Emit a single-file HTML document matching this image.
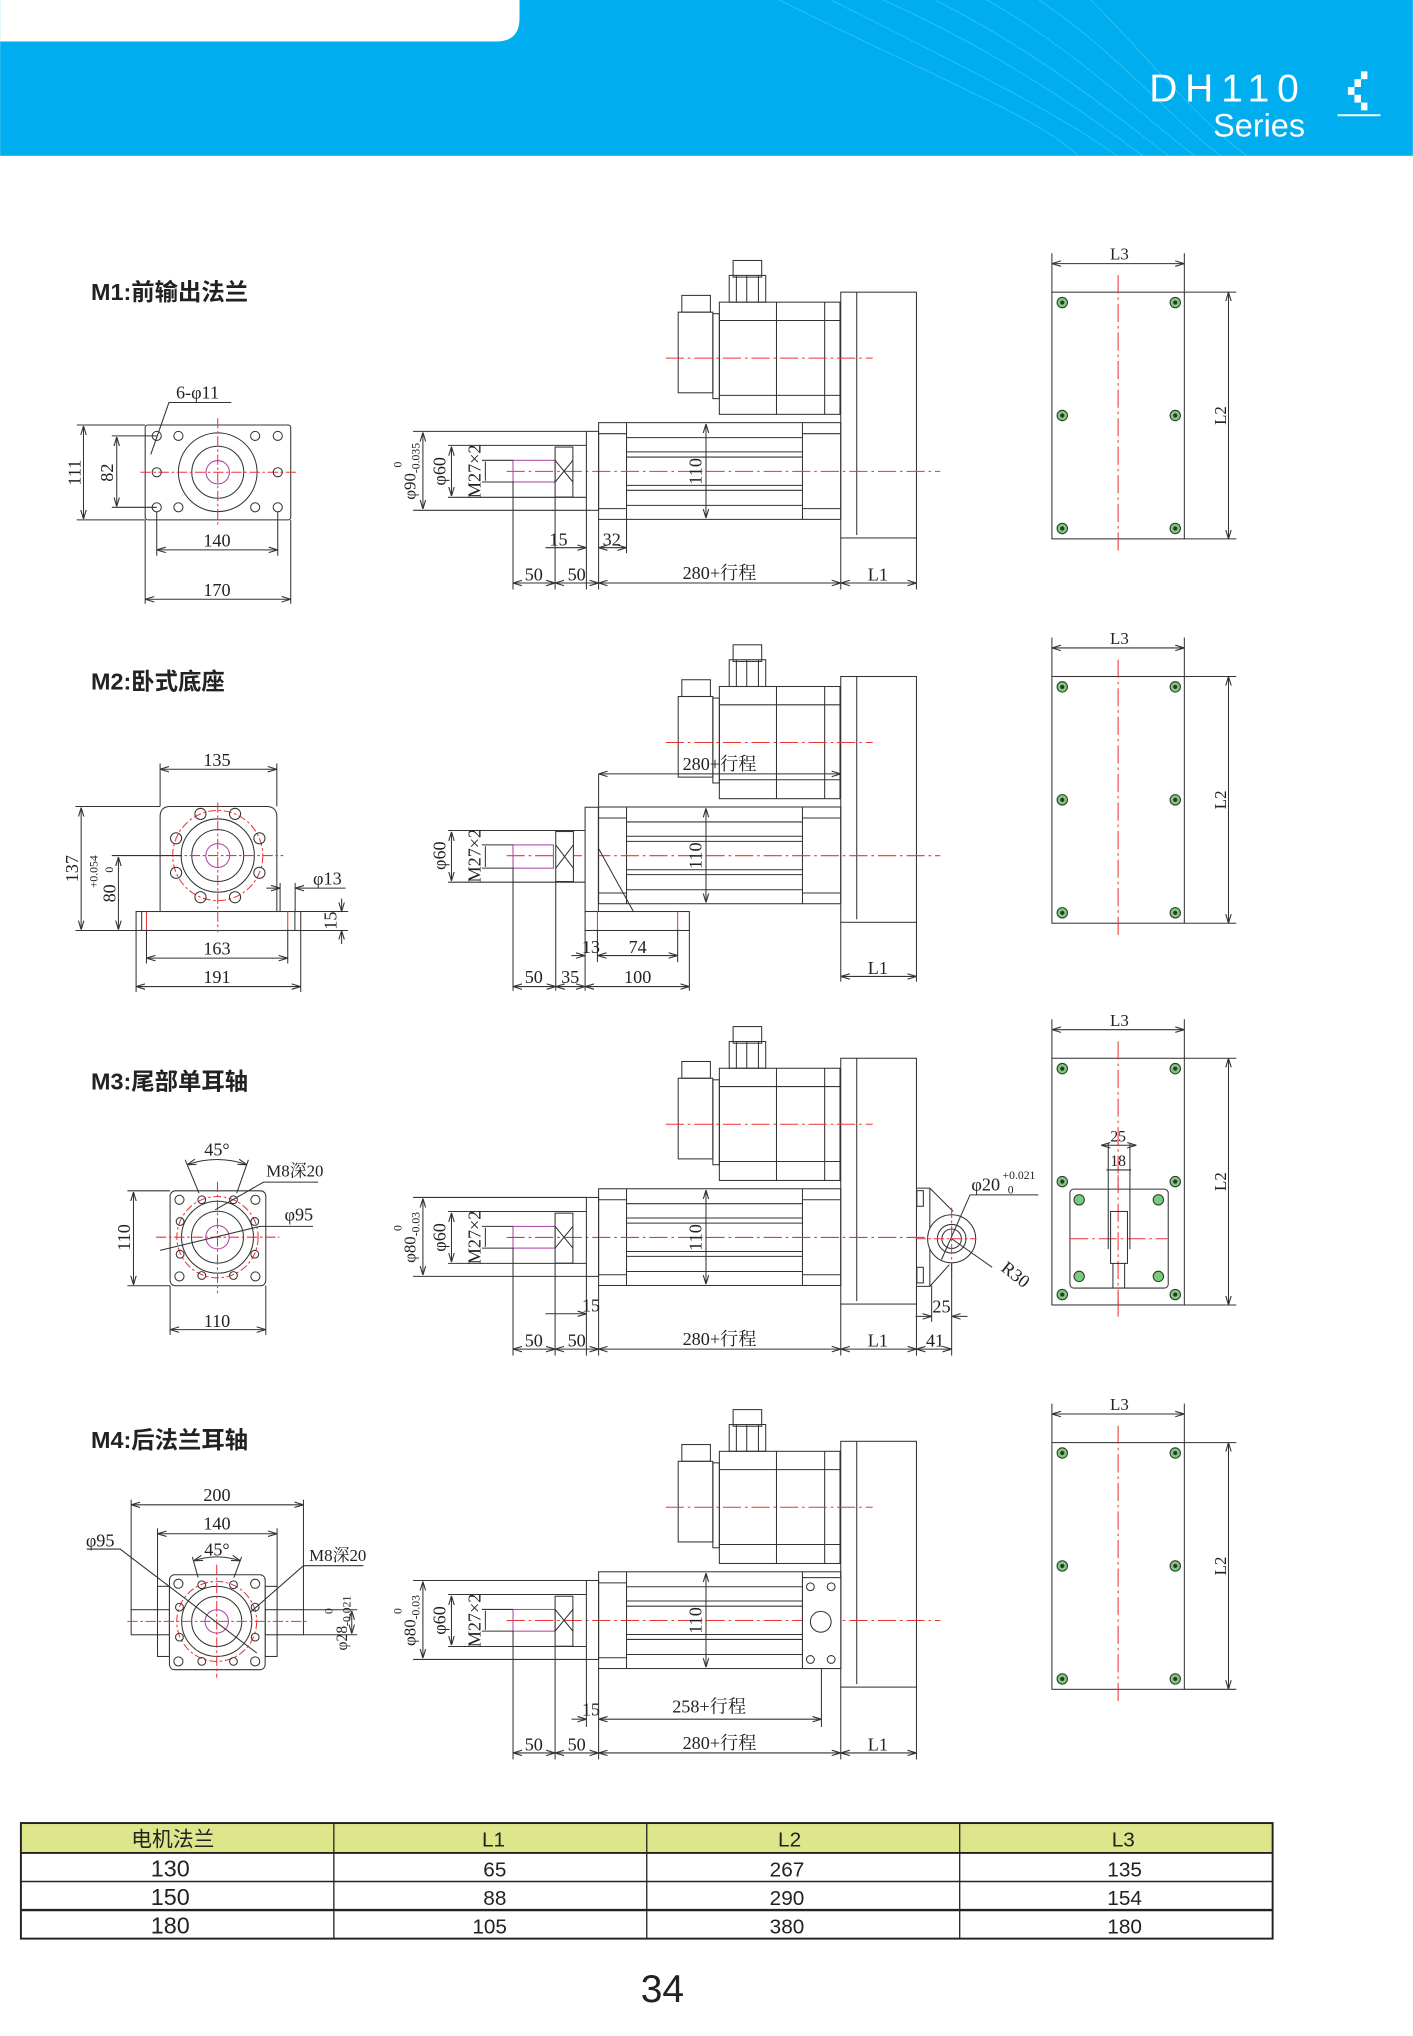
<!DOCTYPE html>
<html><head><meta charset="utf-8"><style>
html,body{margin:0;padding:0;background:#fff;}
svg{display:block;}
text{font-family:"Liberation Serif","Noto Serif CJK SC",serif;fill:#222;}
.s{font-family:"Liberation Sans","Noto Sans CJK SC",sans-serif;}
</style></head><body>
<svg width="1413" height="2036" viewBox="0 0 1088 1568" xmlns="http://www.w3.org/2000/svg">
<defs>
<marker id="a" viewBox="0 0 10 10" refX="10" refY="5" markerWidth="7" markerHeight="7" orient="auto-start-reverse" markerUnits="userSpaceOnUse"><path d="M0,2 L10,5 L0,8" fill="none" stroke="#333" stroke-width="1.2"/></marker>
<g id="mot" fill="none" stroke="#333" stroke-width="0.8">
<rect x="647.4" y="225" width="58.3" height="189.3" fill="#fff"/>
<line x1="659.7" y1="225" x2="659.7" y2="412"/>
<rect x="553.9" y="232.7" width="92.9" height="86.4"/>
<line x1="597.9" y1="232.7" x2="597.9" y2="319.1"/>
<line x1="635" y1="232.7" x2="635" y2="319.1"/>
<line x1="553.9" y1="246.8" x2="646.8" y2="246.8"/>
<line x1="553.9" y1="304.5" x2="646.8" y2="304.5"/>
<rect x="548.9" y="241.6" width="5" height="65.4"/>
<rect x="522.2" y="240.4" width="26.7" height="62.1"/>
<rect x="525" y="227.5" width="22" height="12.9"/>
<rect x="561.5" y="212.1" width="28.1" height="20.6"/>
<line x1="567" y1="212.1" x2="567" y2="232.7"/><line x1="575" y1="212.1" x2="575" y2="232.7"/><line x1="584" y1="212.1" x2="584" y2="232.7"/>
<rect x="564.5" y="200.6" width="22" height="12.8"/>
<rect x="460.9" y="325.5" width="186.5" height="74.5"/>
<line x1="482.4" y1="325.5" x2="482.4" y2="400"/>
<line x1="617.9" y1="325.5" x2="617.9" y2="400"/>
<line x1="460.9" y1="334" x2="482.4" y2="334"/><line x1="617.9" y1="334" x2="647.4" y2="334"/>
<line x1="460.9" y1="391.7" x2="482.4" y2="391.7"/><line x1="617.9" y1="391.7" x2="647.4" y2="391.7"/>
<line x1="482.4" y1="337" x2="617.9" y2="337"/><line x1="482.4" y1="348" x2="617.9" y2="348"/><line x1="482.4" y1="352" x2="617.9" y2="352"/>
<line x1="482.4" y1="373.8" x2="617.9" y2="373.8"/><line x1="482.4" y1="377.6" x2="617.9" y2="377.6"/><line x1="482.4" y1="389.2" x2="617.9" y2="389.2"/>
<line x1="543.6" y1="326.5" x2="543.6" y2="399" marker-start="url(#a)" marker-end="url(#a)"/>
<line x1="390" y1="363" x2="724" y2="363" stroke="#e33" stroke-dasharray="14,3,2,3"/>
<line x1="512.6" y1="275.8" x2="672" y2="275.8" stroke="#e33" stroke-dasharray="14,3,2,3"/>
</g>
<g id="rod" fill="none" stroke="#333" stroke-width="0.8">
<rect x="451.5" y="332.2" width="9.4" height="60.8"/>
<rect x="395" y="354.5" width="32.4" height="16.7" stroke="#a4a"/>
<rect x="427.4" y="344.3" width="13.7" height="38.5"/>
<path d="M427.4,354.5 L441.1,371.2 M441.1,354.5 L427.4,371.2"/>
<line x1="345" y1="343" x2="451.5" y2="343"/><line x1="345" y1="383" x2="451.5" y2="383"/>
<line x1="371" y1="354.5" x2="395" y2="354.5"/><line x1="371" y1="371.2" x2="395" y2="371.2"/>
<line x1="318" y1="332.2" x2="451.5" y2="332.2"/><line x1="318" y1="393" x2="451.5" y2="393"/>
<line x1="325.6" y1="333" x2="325.6" y2="392" marker-start="url(#a)" marker-end="url(#a)"/>
<line x1="347.6" y1="344" x2="347.6" y2="382" marker-start="url(#a)" marker-end="url(#a)"/>
<line x1="373.7" y1="355.5" x2="373.7" y2="370.2"/>
</g>
<g id="rp" fill="none" stroke="#333" stroke-width="0.8">
<rect x="810" y="225" width="102" height="190"/>
<line x1="861" y1="212" x2="861" y2="427" stroke="#e33" stroke-dasharray="14,3,2,3"/>
<g fill="#7c7"><circle cx="818" cy="233" r="4"/><circle cx="905" cy="233" r="4"/><circle cx="818" cy="320" r="4"/><circle cx="905" cy="320" r="4"/><circle cx="818" cy="407" r="4"/><circle cx="905" cy="407" r="4"/></g>
<g fill="#333" stroke="none"><circle cx="818" cy="233" r="1.6"/><circle cx="905" cy="233" r="1.6"/><circle cx="818" cy="320" r="1.6"/><circle cx="905" cy="320" r="1.6"/><circle cx="818" cy="407" r="1.6"/><circle cx="905" cy="407" r="1.6"/></g>
<line x1="810" y1="195" x2="810" y2="225"/><line x1="912" y1="195" x2="912" y2="225"/>
<line x1="810" y1="203" x2="912" y2="203" marker-start="url(#a)" marker-end="url(#a)"/>
<line x1="912" y1="225" x2="952" y2="225"/><line x1="912" y1="415" x2="952" y2="415"/>
<line x1="946" y1="225" x2="946" y2="415" marker-start="url(#a)" marker-end="url(#a)"/>
</g>
</defs>

<!-- header -->
<rect x="0" y="0" width="1088" height="120" fill="#00AEEF"/>
<g stroke="#5fd0f5" stroke-width="0.6" fill="none" opacity="0.6">
<path d="M600,0 C720,60 800,90 830,120"/><path d="M640,0 C740,50 820,90 860,120"/><path d="M680,0 C770,40 840,90 880,120"/><path d="M720,0 C800,40 860,90 900,120"/><path d="M760,0 C830,40 880,90 920,120"/><path d="M800,0 C860,40 900,90 940,120"/><path d="M840,0 C880,40 920,90 960,120"/>
</g>
<path d="M0,0 H400 V14 Q400,32 382,32 H0 Z" fill="#fff"/>
<text x="885" y="78" class="s" font-size="30" style="fill:#fff" letter-spacing="6">DH110</text>
<text x="1005" y="105" class="s" font-size="25" text-anchor="end" style="fill:#fff">Series</text>
<g fill="#fff"><rect x="1048" y="55" width="5" height="6"/><rect x="1043" y="61" width="5" height="6"/><rect x="1038" y="67" width="5" height="6"/><rect x="1043" y="73" width="5" height="6"/><rect x="1048" y="79" width="5" height="6"/><rect x="1030" y="88" width="33" height="1.5"/></g>

<!-- titles -->
<g class="s" font-size="18" font-weight="bold">
<text x="70" y="231" class="s">M1:前输出法兰</text>
<text x="70" y="531" class="s">M2:卧式底座</text>
<text x="70" y="839" class="s">M3:尾部单耳轴</text>
<text x="70" y="1115" class="s">M4:后法兰耳轴</text>
</g>

<!-- right plates -->
<use href="#rp"/>
<use href="#rp" transform="translate(0,296)"/>
<use href="#rp" transform="translate(0,590)"/>
<use href="#rp" transform="translate(0,886)"/>
<g font-size="13">
<text x="862" y="200" text-anchor="middle">L3</text><text x="862" y="496" text-anchor="middle">L3</text><text x="862" y="790" text-anchor="middle">L3</text><text x="862" y="1086" text-anchor="middle">L3</text>
<text transform="translate(944,320) rotate(-90)" text-anchor="middle">L2</text>
<text transform="translate(944,616) rotate(-90)" text-anchor="middle">L2</text>
<text transform="translate(944,910) rotate(-90)" text-anchor="middle">L2</text>
<text transform="translate(944,1206) rotate(-90)" text-anchor="middle">L2</text>
</g>
<!-- M3 plate extras -->
<g fill="none" stroke="#333" stroke-width="0.8">
<rect x="823.9" y="915.8" width="75.7" height="76.2" rx="3" fill="#fff"/>
<line x1="861" y1="905" x2="861" y2="1005" stroke="#e33" stroke-dasharray="14,3,2,3"/>
<line x1="824" y1="954" x2="899" y2="954" stroke="#e33" stroke-dasharray="14,3,2,3"/>
<line x1="853.4" y1="880" x2="853.4" y2="962"/><line x1="870.1" y1="880" x2="870.1" y2="962"/>
<rect x="855.2" y="933" width="13" height="40"/>
<line x1="857" y1="973" x2="857" y2="992"/><line x1="866" y1="973" x2="866" y2="992"/>
<line x1="848" y1="882" x2="875" y2="882" marker-start="url(#a)" marker-end="url(#a)"/>
<line x1="852" y1="901" x2="871" y2="901"/>
<g fill="#7c7"><circle cx="831" cy="924" r="4"/><circle cx="892" cy="924" r="4"/><circle cx="831" cy="983" r="4"/><circle cx="892" cy="983" r="4"/></g>
</g>
<g font-size="12"><text x="861" y="879" text-anchor="middle">25</text><text x="861" y="898" text-anchor="middle">18</text></g>

<!-- side views motors -->
<use href="#mot"/>
<use href="#mot" transform="translate(0,296)"/>
<use href="#mot" transform="translate(0,590)"/>
<use href="#mot" transform="translate(0,885)"/>
<use href="#rod"/>
<use href="#rod" transform="translate(0,590)"/>
<use href="#rod" transform="translate(0,885)"/>
<g font-size="14">
<text transform="translate(540,363) rotate(-90)" text-anchor="middle">110</text>
<text transform="translate(540,659) rotate(-90)" text-anchor="middle">110</text>
<text transform="translate(540,953) rotate(-90)" text-anchor="middle">110</text>
<text transform="translate(540,1248) rotate(-90)" text-anchor="middle">110</text>
</g>

<!-- M1 side dims -->
<g fill="none" stroke="#333" stroke-width="0.8">
<line x1="395" y1="371" x2="395" y2="454"/><line x1="427.4" y1="383" x2="427.4" y2="454"/><line x1="451.5" y1="393" x2="451.5" y2="454"/><line x1="460.9" y1="400" x2="460.9" y2="454"/><line x1="482.4" y1="400" x2="482.4" y2="426"/><line x1="647.4" y1="414" x2="647.4" y2="454"/><line x1="705.7" y1="414" x2="705.7" y2="454"/>
<line x1="420" y1="421.8" x2="451.5" y2="421.8" marker-end="url(#a)"/><line x1="460.9" y1="421.8" x2="482.4" y2="421.8" marker-start="url(#a)" marker-end="url(#a)"/>
<line x1="395" y1="449" x2="427.4" y2="449" marker-start="url(#a)" marker-end="url(#a)"/><line x1="427.4" y1="449" x2="460.9" y2="449" marker-start="url(#a)" marker-end="url(#a)"/><line x1="460.9" y1="449" x2="647.4" y2="449" marker-start="url(#a)" marker-end="url(#a)"/><line x1="647.4" y1="449" x2="705.7" y2="449" marker-start="url(#a)" marker-end="url(#a)"/>
</g>
<g font-size="14">
<text x="430" y="420" text-anchor="middle">15</text><text x="471" y="420" text-anchor="middle">32</text>
<text x="411" y="447" text-anchor="middle">50</text><text x="444" y="447" text-anchor="middle">50</text><text x="554" y="446" text-anchor="middle">280+行程</text><text x="676" y="447" text-anchor="middle">L1</text>
<text transform="translate(345,363) rotate(-90)" text-anchor="middle" dy="-2">φ60</text>
<text transform="translate(372,363) rotate(-90)" text-anchor="middle" dy="-2">M27×2</text>
<text transform="translate(322,363) rotate(-90)" text-anchor="middle" dy="-2" font-size="13">φ90<tspan font-size="9" dy="3">-0.035</tspan></text>
<text transform="translate(311,360) rotate(-90)" font-size="9" dy="-2">0</text>
</g>

<!-- M2 side -->
<g transform="translate(0,296)">
<g fill="none" stroke="#333" stroke-width="0.8">
<rect x="395" y="354.7" width="31.1" height="17.9" stroke="#a4a"/>
<rect x="427.9" y="344.4" width="13.6" height="38.5" fill="#fff"/>
<path d="M427.9,354.7 L441.5,372.6 M441.5,354.7 L427.9,372.6"/>
<line x1="345" y1="343.6" x2="450.5" y2="343.6"/><line x1="345" y1="383.4" x2="450.5" y2="383.4"/>
<line x1="371" y1="354.7" x2="395" y2="354.7"/><line x1="371" y1="372.6" x2="395" y2="372.6"/>
<rect x="450.5" y="325.7" width="10.2" height="80.3" fill="#fff"/>
<line x1="460.7" y1="357.2" x2="487.7" y2="406"/>
<rect x="450.5" y="406" width="80.3" height="14.6" fill="#fff"/>
<line x1="460" y1="406" x2="460" y2="420.6" stroke="#e33"/><line x1="521.8" y1="406" x2="521.8" y2="420.6" stroke="#e33"/>
<line x1="347.6" y1="344.6" x2="347.6" y2="382.4" marker-start="url(#a)" marker-end="url(#a)"/>
<line x1="373.7" y1="355.7" x2="373.7" y2="371.6"/>
<line x1="395" y1="372" x2="395" y2="467"/><line x1="427.9" y1="383" x2="427.9" y2="467"/><line x1="450.5" y1="420" x2="450.5" y2="467"/><line x1="460" y1="420" x2="460" y2="445"/><line x1="521.8" y1="420" x2="521.8" y2="445"/><line x1="530.8" y1="420" x2="530.8" y2="467"/>
<line x1="647.4" y1="414" x2="647.4" y2="460"/><line x1="705.7" y1="414" x2="705.7" y2="460"/>
<line x1="440" y1="439.9" x2="450.5" y2="439.9" marker-end="url(#a)"/><line x1="460" y1="439.9" x2="521.8" y2="439.9" marker-start="url(#a)" marker-end="url(#a)"/>
<line x1="395" y1="463.8" x2="427.9" y2="463.8" marker-start="url(#a)" marker-end="url(#a)"/><line x1="427.9" y1="463.8" x2="450.5" y2="463.8" marker-start="url(#a)" marker-end="url(#a)"/><line x1="450.5" y1="463.8" x2="530.8" y2="463.8" marker-start="url(#a)" marker-end="url(#a)"/>
<line x1="647.4" y1="456" x2="705.7" y2="456" marker-start="url(#a)" marker-end="url(#a)"/>
<line x1="460.9" y1="300" x2="460.9" y2="325"/>
<line x1="460.9" y1="300" x2="647.4" y2="300" marker-start="url(#a)" marker-end="url(#a)"/>
</g>
<g font-size="14">
<text x="455" y="438" text-anchor="middle">13</text><text x="491" y="438" text-anchor="middle">74</text>
<text x="411" y="461" text-anchor="middle">50</text><text x="439" y="461" text-anchor="middle">35</text><text x="491" y="461" text-anchor="middle">100</text>
<text x="676" y="454" text-anchor="middle">L1</text>
<text x="554" y="297" text-anchor="middle">280+行程</text>
<text transform="translate(345,363) rotate(-90)" text-anchor="middle" dy="-2">φ60</text>
<text transform="translate(372,363) rotate(-90)" text-anchor="middle" dy="-2">M27×2</text>
</g>
</g>

<!-- M3 side -->
<g transform="translate(0,590)">
<g fill="none" stroke="#333" stroke-width="0.8">
<path d="M706,325 H716 L734,343 M716,325 V400.7 H706 M716,400.7 L731,384"/>
<rect x="706" y="327" width="5" height="12"/><rect x="706" y="386" width="5" height="12"/>
<circle cx="732.8" cy="364" r="18.5" fill="#fff"/><circle cx="732.8" cy="364" r="11"/><circle cx="732.8" cy="364" r="7.5"/>
<line x1="705" y1="364" x2="752" y2="364" stroke="#e33" stroke-dasharray="8,2,2,2"/>
<line x1="732.8" y1="340" x2="732.8" y2="395" stroke="#e33" stroke-dasharray="8,2,2,2"/>
<path d="M799.5,330.2 H747 L725,380"/>
<path d="M732.8,364 L764,386"/>
<line x1="395" y1="371" x2="395" y2="454"/><line x1="427.4" y1="383" x2="427.4" y2="454"/><line x1="451.5" y1="393" x2="451.5" y2="454"/><line x1="460.9" y1="400" x2="460.9" y2="454"/><line x1="647.4" y1="414" x2="647.4" y2="454"/><line x1="705.7" y1="414" x2="705.7" y2="454"/>
<line x1="717.4" y1="400" x2="717.4" y2="428"/><line x1="732.8" y1="383" x2="732.8" y2="454"/>
<line x1="420" y1="421.8" x2="451.5" y2="421.8" marker-end="url(#a)"/>
<line x1="705" y1="423.8" x2="717.4" y2="423.8" marker-end="url(#a)"/><line x1="732.8" y1="423.8" x2="745" y2="423.8" marker-start="url(#a)"/>
<line x1="395" y1="449" x2="427.4" y2="449" marker-start="url(#a)" marker-end="url(#a)"/><line x1="427.4" y1="449" x2="460.9" y2="449" marker-start="url(#a)" marker-end="url(#a)"/><line x1="460.9" y1="449" x2="647.4" y2="449" marker-start="url(#a)" marker-end="url(#a)"/><line x1="647.4" y1="449" x2="705.7" y2="449" marker-start="url(#a)" marker-end="url(#a)"/><line x1="705.7" y1="449" x2="732.8" y2="449" marker-start="url(#a)" marker-end="url(#a)"/>
</g>
<g font-size="14">
<text x="455" y="420" text-anchor="middle">15</text>
<text x="411" y="447" text-anchor="middle">50</text><text x="444" y="447" text-anchor="middle">50</text><text x="554" y="446" text-anchor="middle">280+行程</text><text x="676" y="447" text-anchor="middle">L1</text><text x="720" y="447" text-anchor="middle">41</text>
<text x="725" y="421" text-anchor="middle">25</text>
<text x="748" y="327">φ20</text><text x="772" y="318" font-size="9">+0.021</text><text x="776" y="329" font-size="9">0</text>
<text transform="translate(770,388) rotate(38)">R30</text>
<text transform="translate(345,363) rotate(-90)" text-anchor="middle" dy="-2">φ60</text>
<text transform="translate(372,363) rotate(-90)" text-anchor="middle" dy="-2">M27×2</text>
<text transform="translate(322,363) rotate(-90)" text-anchor="middle" dy="-2" font-size="13">φ80<tspan font-size="9" dy="3">-0.03</tspan></text>
<text transform="translate(311,358) rotate(-90)" font-size="9" dy="-2">0</text>
</g>
</g>

<!-- M4 side -->
<g transform="translate(0,885)">
<g fill="none" stroke="#333" stroke-width="0.8">
<rect x="617.9" y="330" width="29.5" height="70" fill="#fff"/>
<circle cx="624" cy="337" r="3"/><circle cx="640" cy="337" r="3"/><circle cx="624" cy="393" r="3"/><circle cx="640" cy="393" r="3"/>
<circle cx="632" cy="364" r="8"/>
<line x1="395" y1="371" x2="395" y2="470"/><line x1="427.4" y1="383" x2="427.4" y2="470"/><line x1="451.5" y1="393" x2="451.5" y2="445"/><line x1="460.9" y1="400" x2="460.9" y2="470"/><line x1="632.5" y1="400" x2="632.5" y2="445"/><line x1="647.4" y1="414" x2="647.4" y2="470"/><line x1="705.7" y1="414" x2="705.7" y2="470"/>
<line x1="440" y1="439" x2="451.5" y2="439" marker-end="url(#a)"/><line x1="460.9" y1="439" x2="632.5" y2="439" marker-start="url(#a)" marker-end="url(#a)"/>
<line x1="395" y1="465" x2="427.4" y2="465" marker-start="url(#a)" marker-end="url(#a)"/><line x1="427.4" y1="465" x2="460.9" y2="465" marker-start="url(#a)" marker-end="url(#a)"/><line x1="460.9" y1="465" x2="647.4" y2="465" marker-start="url(#a)" marker-end="url(#a)"/><line x1="647.4" y1="465" x2="705.7" y2="465" marker-start="url(#a)" marker-end="url(#a)"/>
</g>
<g font-size="14">
<text x="455" y="436" text-anchor="middle">15</text><text x="546" y="434" text-anchor="middle">258+行程</text>
<text x="411" y="463" text-anchor="middle">50</text><text x="444" y="463" text-anchor="middle">50</text><text x="554" y="462" text-anchor="middle">280+行程</text><text x="676" y="463" text-anchor="middle">L1</text>
<text transform="translate(345,363) rotate(-90)" text-anchor="middle" dy="-2">φ60</text>
<text transform="translate(372,363) rotate(-90)" text-anchor="middle" dy="-2">M27×2</text>
<text transform="translate(322,363) rotate(-90)" text-anchor="middle" dy="-2" font-size="13">φ80<tspan font-size="9" dy="3">-0.03</tspan></text>
<text transform="translate(311,358) rotate(-90)" font-size="9" dy="-2">0</text>
</g>
</g>

<!-- M1 front view -->
<g fill="none" stroke="#333" stroke-width="0.8">
<rect x="111.7" y="327.3" width="112.1" height="73.1" rx="2"/>
<circle cx="167.6" cy="363.7" r="30.3"/><circle cx="167.6" cy="363.7" r="20"/><circle cx="167.6" cy="363.7" r="9" stroke="#a4a"/>
<line x1="108" y1="363.7" x2="228" y2="363.7" stroke="#e33" stroke-dasharray="8,2,2,2"/>
<line x1="167.6" y1="322" x2="167.6" y2="405" stroke="#e33" stroke-dasharray="8,2,2,2"/>
<g><circle cx="120.6" cy="335.7" r="3.5"/><circle cx="137.3" cy="335.7" r="3.5"/><circle cx="196.4" cy="335.7" r="3.5"/><circle cx="213.8" cy="335.7" r="3.5"/><circle cx="120.6" cy="363.7" r="3.5"/><circle cx="213.8" cy="363.7" r="3.5"/><circle cx="120.6" cy="390.7" r="3.5"/><circle cx="137.3" cy="390.7" r="3.5"/><circle cx="196.4" cy="390.7" r="3.5"/><circle cx="213.8" cy="390.7" r="3.5"/></g>
<line x1="59" y1="327.3" x2="111.7" y2="327.3"/><line x1="59" y1="400.4" x2="111.7" y2="400.4"/>
<line x1="64.2" y1="328" x2="64.2" y2="399.7" marker-start="url(#a)" marker-end="url(#a)"/>
<line x1="86" y1="335.7" x2="120.6" y2="335.7"/><line x1="86" y1="390.7" x2="120.6" y2="390.7"/>
<line x1="89.8" y1="336.5" x2="89.8" y2="390" marker-start="url(#a)" marker-end="url(#a)"/>
<line x1="120.6" y1="394" x2="120.6" y2="428"/><line x1="213.8" y1="394" x2="213.8" y2="428"/>
<line x1="120.6" y1="423.5" x2="213.8" y2="423.5" marker-start="url(#a)" marker-end="url(#a)"/>
<line x1="111.7" y1="400.4" x2="111.7" y2="465"/><line x1="223.8" y1="400.4" x2="223.8" y2="465"/>
<line x1="111.7" y1="461.5" x2="223.8" y2="461.5" marker-start="url(#a)" marker-end="url(#a)"/>
<path d="M178,310 H130 L116,350"/>
</g>
<g font-size="14">
<text x="152" y="307" text-anchor="middle">6-φ11</text>
<text transform="translate(62,364) rotate(-90)" text-anchor="middle">111</text>
<text transform="translate(87,364) rotate(-90)" text-anchor="middle">82</text>
<text x="167" y="421" text-anchor="middle">140</text>
<text x="167" y="459" text-anchor="middle">170</text>
</g>

<!-- M2 front view -->
<g fill="none" stroke="#333" stroke-width="0.8">
<path d="M123.2,702 V629 Q123.2,621.1 131,621.1 H205 Q213.1,621.1 213.1,629 V702"/>
<rect x="104.7" y="702" width="126.8" height="14.6"/>
<line x1="109" y1="702" x2="109" y2="716.6"/><line x1="227" y1="702" x2="227" y2="716.6"/>
<line x1="112.7" y1="702" x2="112.7" y2="716.6" stroke="#e33"/><line x1="221.5" y1="702" x2="221.5" y2="716.6" stroke="#e33"/>
<circle cx="167.6" cy="658.9" r="28.2"/><circle cx="167.6" cy="658.9" r="20"/><circle cx="167.6" cy="658.9" r="9.2" stroke="#a4a"/>
<circle cx="167.6" cy="658.9" r="34.7" stroke="#e33" stroke-dasharray="6,2,2,2"/>
<line x1="118" y1="658.9" x2="218" y2="658.9" stroke="#e33" stroke-dasharray="8,2,2,2"/>
<line x1="167.6" y1="618" x2="167.6" y2="718" stroke="#e33" stroke-dasharray="8,2,2,2"/>
<circle cx="180.9" cy="626.8" r="4.3"/><circle cx="154.3" cy="626.8" r="4.3"/><circle cx="199.7" cy="645.6" r="4.3"/><circle cx="135.5" cy="645.6" r="4.3"/><circle cx="199.7" cy="672.2" r="4.3"/><circle cx="135.5" cy="672.2" r="4.3"/><circle cx="180.9" cy="691" r="4.3"/><circle cx="154.3" cy="691" r="4.3"/>
<line x1="123.2" y1="588" x2="123.2" y2="621"/><line x1="213.1" y1="588" x2="213.1" y2="621"/>
<line x1="123.2" y1="592.4" x2="213.1" y2="592.4" marker-start="url(#a)" marker-end="url(#a)"/>
<line x1="58" y1="621.1" x2="123.2" y2="621.1"/><line x1="58" y1="716.6" x2="104.7" y2="716.6"/>
<line x1="62.4" y1="622" x2="62.4" y2="716" marker-start="url(#a)" marker-end="url(#a)"/>
<line x1="86" y1="658.9" x2="140" y2="658.9"/>
<line x1="91.1" y1="660" x2="91.1" y2="716" marker-start="url(#a)" marker-end="url(#a)"/>
<line x1="112.7" y1="716" x2="112.7" y2="742"/><line x1="221.5" y1="716" x2="221.5" y2="742"/>
<line x1="112.7" y1="737.9" x2="221.5" y2="737.9" marker-start="url(#a)" marker-end="url(#a)"/>
<line x1="104.7" y1="716" x2="104.7" y2="764"/><line x1="231.5" y1="716" x2="231.5" y2="764"/>
<line x1="104.7" y1="759.8" x2="231.5" y2="759.8" marker-start="url(#a)" marker-end="url(#a)"/>
<line x1="205" y1="684" x2="215.6" y2="684" marker-end="url(#a)"/><line x1="227.2" y1="684" x2="266" y2="684" marker-start="url(#a)"/>
<line x1="215.6" y1="680" x2="215.6" y2="702"/><line x1="227.2" y1="680" x2="227.2" y2="702"/>
<line x1="231.5" y1="702" x2="268" y2="702"/><line x1="231.5" y1="716.6" x2="268" y2="716.6"/>
<line x1="263" y1="692" x2="263" y2="702" marker-end="url(#a)"/><line x1="263" y1="716.6" x2="263" y2="727" marker-start="url(#a)"/>
</g>
<g font-size="14">
<text x="167" y="590" text-anchor="middle">135</text>
<text transform="translate(60,669) rotate(-90)" text-anchor="middle">137</text>
<text transform="translate(89,688) rotate(-90)" text-anchor="middle">80</text>
<text transform="translate(75,684) rotate(-90)" font-size="9">+0.054</text>
<text transform="translate(87,672) rotate(-90)" font-size="9">0</text>
<text x="167" y="735" text-anchor="middle">163</text>
<text x="167" y="757" text-anchor="middle">191</text>
<text x="241" y="681">φ13</text>
<text transform="translate(259,709) rotate(-90)" text-anchor="middle">15</text>
</g>

<!-- M3 front view -->
<g fill="none" stroke="#333" stroke-width="0.8">
<rect x="130.9" y="917.1" width="73.7" height="73.1" rx="4"/>
<circle cx="167.4" cy="952.8" r="27.7"/><circle cx="167.4" cy="952.8" r="20"/><circle cx="167.4" cy="952.8" r="9" stroke="#a4a"/>
<circle cx="167.4" cy="952.8" r="31.3" stroke="#e33" stroke-dasharray="6,2,2,2"/>
<line x1="120" y1="952.8" x2="215" y2="952.8" stroke="#e33" stroke-dasharray="8,2,2,2"/>
<line x1="167.4" y1="910" x2="167.4" y2="996" stroke="#e33" stroke-dasharray="8,2,2,2"/>
<circle cx="138.1" cy="924" r="3.5"/><circle cx="196.6" cy="924" r="3.5"/><circle cx="138.1" cy="983" r="3.5"/><circle cx="196.6" cy="983" r="3.5"/>
<circle cx="155.3" cy="924" r="3"/><circle cx="179.7" cy="924" r="3"/><circle cx="138.6" cy="940.7" r="3"/><circle cx="196.1" cy="940.7" r="3"/><circle cx="138.6" cy="965.9" r="3"/><circle cx="196.1" cy="965.9" r="3"/><circle cx="155.3" cy="982.3" r="3"/><circle cx="179.7" cy="982.3" r="3"/>
<line x1="153.2" y1="918.9" x2="142.5" y2="893.2"/><line x1="182.2" y1="918.9" x2="191.2" y2="893.2"/>
<path d="M144,897 Q167,889 190,897" marker-start="url(#a)" marker-end="url(#a)"/>
<path d="M245,910.4 H202.8 L165.6,931.7"/>
<path d="M241,944.5 H200 L123.2,963"/>
<line x1="98" y1="917.1" x2="130.9" y2="917.1"/><line x1="98" y1="990.2" x2="130.9" y2="990.2"/>
<line x1="102.7" y1="918" x2="102.7" y2="989.5" marker-start="url(#a)" marker-end="url(#a)"/>
<line x1="130.9" y1="990" x2="130.9" y2="1028"/><line x1="204.6" y1="990" x2="204.6" y2="1028"/>
<line x1="130.9" y1="1024" x2="204.6" y2="1024" marker-start="url(#a)" marker-end="url(#a)"/>
</g>
<g font-size="14">
<text x="167" y="890" text-anchor="middle">45°</text>
<text x="205" y="906" font-size="13">M8深20</text>
<text x="219" y="940">φ95</text>
<text transform="translate(100,953) rotate(-90)" text-anchor="middle">110</text>
<text x="167" y="1022" text-anchor="middle">110</text>
</g>

<!-- M4 front view -->
<g fill="none" stroke="#333" stroke-width="0.8">
<rect x="100.9" y="1239.7" width="29.5" height="19.3"/><rect x="204.1" y="1239.7" width="29.5" height="19.3"/>
<rect x="121.2" y="1221.7" width="9.2" height="54"/><rect x="204.1" y="1221.7" width="9.2" height="54"/>
<rect x="130.4" y="1212.8" width="73.7" height="73.1" rx="4" fill="#fff"/>
<circle cx="166.8" cy="1248.7" r="27"/><circle cx="166.8" cy="1248.7" r="19.3"/><circle cx="166.8" cy="1248.7" r="9" stroke="#a4a"/>
<circle cx="166.8" cy="1248.7" r="30.8" stroke="#e33" stroke-dasharray="6,2,2,2"/>
<line x1="98" y1="1248.7" x2="236" y2="1248.7" stroke="#e33" stroke-dasharray="8,2,2,2"/>
<line x1="166.8" y1="1205" x2="166.8" y2="1292" stroke="#e33" stroke-dasharray="8,2,2,2"/>
<circle cx="137.3" cy="1219.7" r="3.5"/><circle cx="196.4" cy="1219.7" r="3.5"/><circle cx="137.3" cy="1279.5" r="3.5"/><circle cx="196.4" cy="1279.5" r="3.5"/>
<circle cx="155.3" cy="1220.5" r="3"/><circle cx="179.7" cy="1220.5" r="3"/><circle cx="138.1" cy="1237.7" r="3"/><circle cx="196.4" cy="1237.7" r="3"/><circle cx="138.1" cy="1260.8" r="3"/><circle cx="196.4" cy="1260.8" r="3"/><circle cx="155.3" cy="1279.5" r="3"/><circle cx="179.7" cy="1279.5" r="3"/>
<line x1="152.5" y1="1215" x2="148" y2="1199"/><line x1="180" y1="1215" x2="186" y2="1199"/>
<path d="M149,1202 Q167,1196 185,1202" marker-start="url(#a)" marker-end="url(#a)"/>
<line x1="100.9" y1="1155" x2="100.9" y2="1240"/><line x1="233.6" y1="1155" x2="233.6" y2="1240"/>
<line x1="100.9" y1="1158.9" x2="233.6" y2="1158.9" marker-start="url(#a)" marker-end="url(#a)"/>
<line x1="121.2" y1="1177" x2="121.2" y2="1222"/><line x1="213.3" y1="1177" x2="213.3" y2="1222"/>
<line x1="121.2" y1="1181.2" x2="213.3" y2="1181.2" marker-start="url(#a)" marker-end="url(#a)"/>
<path d="M66.7,1193 H92.4 L197.6,1273"/>
<path d="M279.8,1205.8 H233.6 L192.5,1241.8"/>
<line x1="233.6" y1="1239.7" x2="275" y2="1239.7"/><line x1="233.6" y1="1259" x2="275" y2="1259"/>
<line x1="270.8" y1="1240.5" x2="270.8" y2="1258.2" marker-start="url(#a)" marker-end="url(#a)"/>
</g>
<g font-size="14">
<text x="167" y="1156" text-anchor="middle">200</text>
<text x="167" y="1178" text-anchor="middle">140</text>
<text x="167" y="1198" text-anchor="middle">45°</text>
<text x="66" y="1191">φ95</text>
<text x="238" y="1202" font-size="13">M8深20</text>
<text transform="translate(267,1250) rotate(-90)" text-anchor="middle" font-size="12">φ28<tspan font-size="9" dy="3">-0.021</tspan></text>
<text transform="translate(256,1243) rotate(-90)" font-size="9">0</text>
</g>

<!-- table -->
<rect x="16" y="1404" width="964" height="23" fill="#dde68a"/>
<g fill="none" stroke="#222">
<rect x="16" y="1404" width="964" height="89" stroke-width="1.5"/>
<line x1="16" y1="1427" x2="980" y2="1427" stroke-width="1.5"/>
<line x1="16" y1="1449" x2="980" y2="1449" stroke-width="1.2"/>
<line x1="16" y1="1471" x2="980" y2="1471" stroke-width="1.8"/>
<line x1="257" y1="1404" x2="257" y2="1493"/><line x1="498" y1="1404" x2="498" y2="1493"/><line x1="739" y1="1404" x2="739" y2="1493"/>
</g>
<g class="s" text-anchor="middle" font-size="16">
<text x="133" y="1422" class="s" text-anchor="middle">电机法兰</text><text x="380" y="1422" class="s" text-anchor="middle">L1</text><text x="608" y="1422" class="s" text-anchor="middle">L2</text><text x="865" y="1422" class="s" text-anchor="middle">L3</text>
<text x="131" y="1445" class="s" text-anchor="middle" font-size="18">130</text><text x="381" y="1445" class="s" text-anchor="middle">65</text><text x="606" y="1445" class="s" text-anchor="middle">267</text><text x="866" y="1445" class="s" text-anchor="middle">135</text>
<text x="131" y="1467" class="s" text-anchor="middle" font-size="18">150</text><text x="381" y="1467" class="s" text-anchor="middle">88</text><text x="606" y="1467" class="s" text-anchor="middle">290</text><text x="866" y="1467" class="s" text-anchor="middle">154</text>
<text x="131" y="1489" class="s" text-anchor="middle" font-size="18">180</text><text x="377" y="1489" class="s" text-anchor="middle">105</text><text x="606" y="1489" class="s" text-anchor="middle">380</text><text x="866" y="1489" class="s" text-anchor="middle">180</text>
</g>
<text x="510" y="1542" class="s" font-size="30" text-anchor="middle">34</text>
</svg>
</body></html>
